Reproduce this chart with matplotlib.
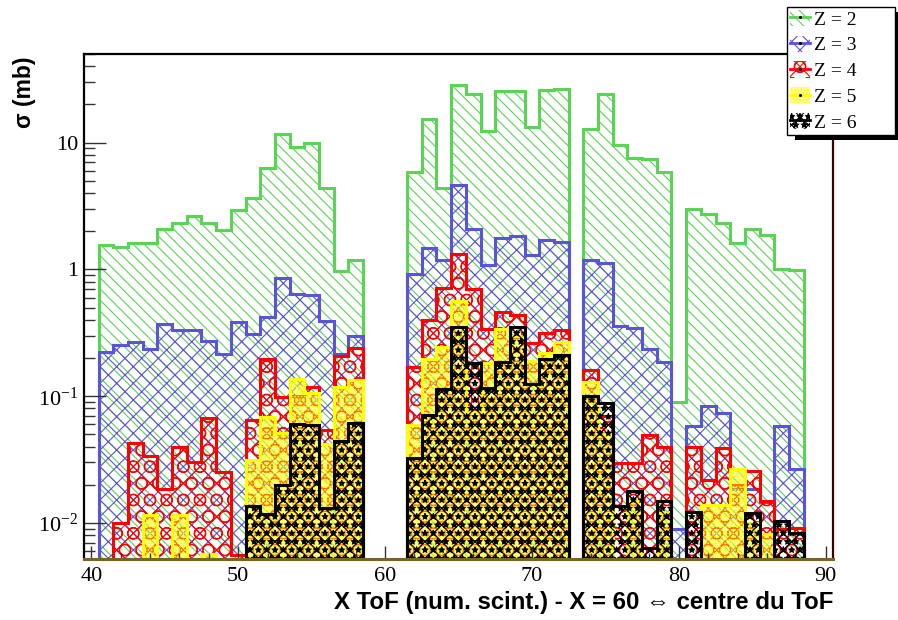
import numpy as np
import matplotlib
matplotlib.use('Agg')
import matplotlib.pyplot as plt
from matplotlib.patches import Patch, Rectangle
from matplotlib.lines import Line2D
from matplotlib.ticker import FixedLocator, FixedFormatter, NullFormatter

plt.rcParams['mathtext.fontset'] = 'custom'
plt.rcParams['mathtext.rm'] = 'Liberation Serif'
plt.rcParams['hatch.linewidth'] = 0.8

# bin centres (scintillator number)
scint = np.arange(41, 89)

# cross sections in mb, one value per bin (0 = empty bin)
z2 = [1.57, 1.51, 1.61, 1.61, 2.07, 2.32, 2.62, 2.32, 2.03, 2.96, 3.66, 6.3, 11.6, 9.3, 10.0, 4.36, 0.98, 1.19,
      0, 0, 0, 5.87, 15.3, 4.41, 28.3, 24.4, 12.3, 25.4, 25.7, 13.3, 25.9, 26.5,
      0, 12.7, 24.4, 9.64, 7.56, 7.38, 5.87, 0.0898, 2.98, 2.75, 2.32, 1.61, 2.07, 1.86, 1.0, 0.99]
z3 = [0.225, 0.255, 0.27, 0.234, 0.37, 0.33, 0.33, 0.272, 0.216, 0.385, 0.31, 0.42, 0.86, 0.64, 0.63, 0.39, 0.216, 0.30,
      0, 0, 0, 0.925, 1.48, 1.18, 4.65, 2.07, 1.08, 1.78, 1.82, 1.29, 1.71, 1.66,
      0, 1.18, 1.13, 0.361, 0.344, 0.237, 0.186, 0.009, 0.0577, 0.0836, 0.074, 0.0184, 0.0184, 0.0146, 0.0587, 0.0267]
z4 = [0, 0.0100, 0.0429, 0.0337, 0.0184, 0.040, 0.0305, 0.0676, 0.0251, 0.0056, 0.0646, 0.195, 0.098, 0.10, 0.118,
      0.0537, 0.207, 0.24,
      0, 0, 0, 0.17, 0.40, 0.72, 1.33, 0.70, 0.34, 0.46, 0.44, 0.264, 0.316, 0.334,
      0, 0.16, 0.07, 0.0297, 0.0297, 0.049, 0.040, 0, 0.040, 0.0219, 0.039, 0.02, 0.0255, 0.0149, 0.009, 0.0091]
z5 = [0, 0, 0, 0.0115, 0, 0.0115, 0, 0.0057, 0, 0, 0.0316, 0.068, 0.051, 0.137, 0.106, 0.0417, 0.118, 0.135,
      0, 0, 0, 0.0598, 0.197, 0.244, 0.563, 0.075, 0.182, 0.34, 0.30, 0.188, 0.22, 0.267,
      0, 0.129, 0.05, 0, 0.015, 0, 0.012, 0, 0, 0.0139, 0.0139, 0.0267, 0.010, 0.0082, 0, 0]
z6 = [0, 0, 0, 0, 0, 0, 0, 0, 0, 0, 0.0137, 0.0118, 0.0201, 0.0605, 0.059, 0.0131, 0.0447, 0.061,
      0, 0, 0, 0.0327, 0.0713, 0.114, 0.351, 0.182, 0.116, 0.186, 0.351, 0.125, 0.197, 0.212,
      0, 0.101, 0.088, 0.0135, 0.0178, 0.0063, 0.015, 0, 0.0123, 0, 0, 0, 0.0119, 0, 0.0103, 0.0083]

labels = ['Z = 2', 'Z = 3', 'Z = 4', 'Z = 5', 'Z = 6']
colors = ['#59d454', '#5954d8', '#ff0000', '#ffff00', '#000000']
fills = ['none', 'none', 'none', (1, 1, 0, 0.45), 'none']
hatches = ['\\\\\\', 'xx', 'Ox', '.....', 'xx**']

ymin, ymax = 0.0052, 50
floor = 1e-4

fig = plt.figure(figsize=(8.98, 6.2), dpi=100)
ax = fig.add_axes([84 / 898, 1 - 559 / 620, (833 - 84) / 898, (559 - 54) / 620])
ax.set_yscale('log')

edges = np.append(scint - 0.5, scint[-1] + 0.5)
for vals, col, fc, h in zip([z2, z3, z4, z5, z6], colors, fills, hatches):
    v = np.array(vals, dtype=float)
    v[v <= 0] = floor
    ax.stairs(v, edges, baseline=floor, fill=True, facecolor=fc, edgecolor=col, hatch=h, linewidth=0)
    ax.stairs(v, edges, baseline=floor, fill=False, color=col, linewidth=2.2)

ax.set_xlim(39.5, 90.5)
ax.set_ylim(ymin, ymax)

# ROOT-like axes
for s in ['left', 'top']:
    ax.spines[s].set_linewidth(1.6)
ax.spines['right'].set_linewidth(1.6)
ax.spines['right'].set_color('#3a0000')
ax.spines['bottom'].set_linewidth(2.2)
ax.spines['bottom'].set_color('#7a6424')

ax.yaxis.set_major_locator(FixedLocator([0.01, 0.1, 1, 10]))
ax.yaxis.set_major_formatter(FixedFormatter([r'$\mathregular{10^{-2}}$', r'$\mathregular{10^{-1}}$', '1', '10']))
ax.yaxis.set_minor_locator(FixedLocator([m * 10.0 ** e for e in range(-3, 2) for m in range(2, 10)]))
ax.yaxis.set_minor_formatter(NullFormatter())
ax.xaxis.set_major_locator(FixedLocator([40, 50, 60, 70, 80, 90]))
ax.xaxis.set_minor_locator(FixedLocator(np.arange(40, 91, 2)))

ax.tick_params(axis='y', which='major', direction='in', length=16, width=1, color='#333333', pad=4,
               labelsize=16, right=False)
ax.tick_params(axis='y', which='minor', direction='in', length=8, width=1, color='#333333', right=False)
ax.tick_params(axis='x', which='major', direction='in', length=9.5, width=1, color='#333333', pad=6,
               labelsize=16, top=False)
ax.tick_params(axis='x', which='minor', direction='in', length=4.5, width=1, color='#333333', top=False)
for lab in ax.get_xticklabels() + ax.get_yticklabels():
    lab.set_fontfamily('Liberation Serif')

fig.text(833 / 898, 1 - 603 / 620, 'X ToF (num. scint.) - X = 60 \u21d4 centre du ToF',
         ha='right', va='center', fontsize=17.3, fontweight='bold',
         family=['Liberation Sans', 'DejaVu Sans'])
fig.text(25 / 898, 1 - 57 / 620, '\u03c3 (mb)', rotation=90, ha='center', va='top',
         fontsize=16.5, fontweight='bold', family=['Liberation Sans', 'DejaVu Sans'])

# legend box with black shadow, ROOT style
W, H = 898.0, 620.0
fig.patches.append(Rectangle((795 / W, 1 - 140 / H), 110 / W, 128 / H, transform=fig.transFigure,
                             facecolor='black', edgecolor='none', zorder=8))
fig.patches.append(Rectangle((787 / W, 1 - 135 / H), 108 / W, 128 / H, transform=fig.transFigure,
                             facecolor='white', edgecolor='black', linewidth=1, zorder=9))

handles = []
for col, fc, h in zip(colors, fills, hatches):
    p = Patch(facecolor='white' if fc == 'none' else fc, edgecolor=col, hatch=h, linewidth=0)
    l = Line2D([], [], color=col, linewidth=2, marker='.', markersize=2.5, mfc='k', mec='k')
    handles.append((p, l))
leg = fig.legend(handles, labels, loc='upper left', bbox_to_anchor=(788 / W, 1 - 8 / H),
                 bbox_transform=fig.transFigure, borderaxespad=0, frameon=False,
                 prop={'family': 'Liberation Serif', 'size': 14}, handlelength=1.05, handleheight=0.9,
                 handletextpad=0.2, labelspacing=0.36, borderpad=0.1)
leg.set_zorder(10)

fig.savefig('out.png', dpi=100)
